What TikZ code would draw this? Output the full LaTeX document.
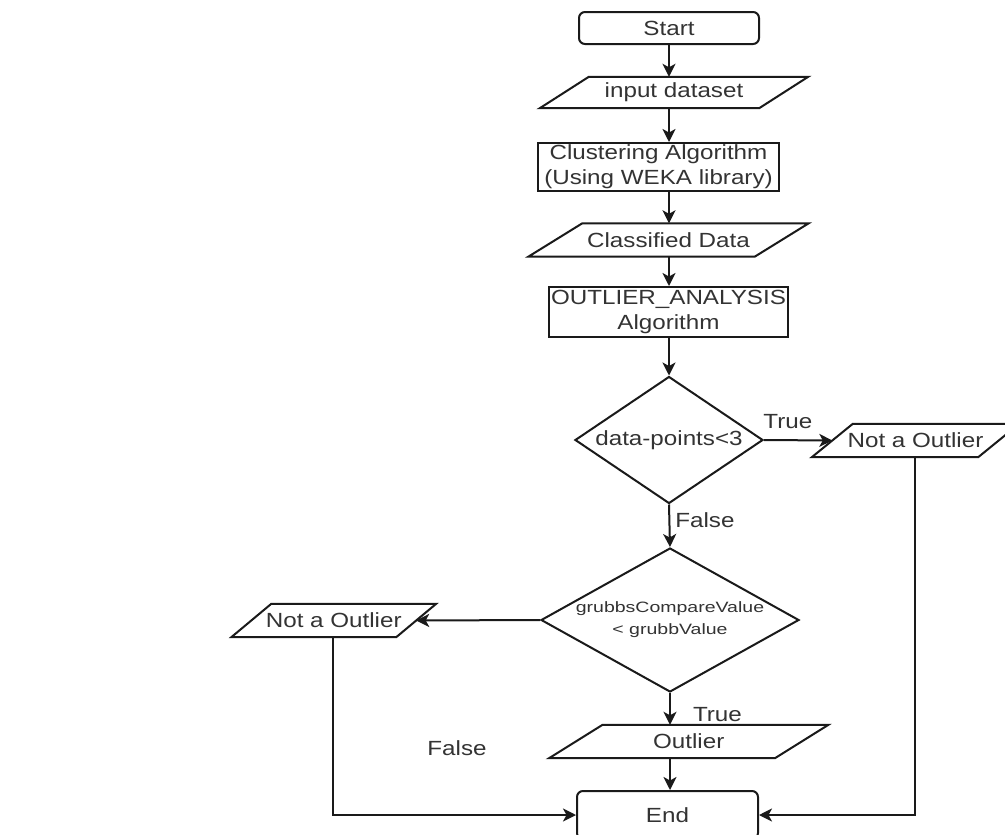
\documentclass[tikz,border=0pt]{standalone}
\usepackage{fontspec}
\setmainfont{Liberation Sans}[FakeStretch=1.18]
\newfontfamily\smallfont{Liberation Sans}[FakeStretch=1.3]
\usetikzlibrary{shapes.geometric,arrows.meta}
\definecolor{txt}{HTML}{333333}
\definecolor{ln}{HTML}{1A1A1A}
\newcommand\drawpara[2]{\draw[shapeline] ([xshift=#2pt]#1.north west) -- ([xshift=#2pt]#1.north east) -- ([xshift=-#2pt]#1.south east) -- ([xshift=-#2pt]#1.south west) -- cycle;}
\begin{document}
\begin{tikzpicture}[x=1pt,y=-1pt,
  every node/.style={text=txt, font=\fontsize{20.5}{25}\selectfont, inner sep=0pt},
  shapeline/.style={draw=ln, line width=2pt},
  term/.style={shapeline, rounded corners=6pt},
  proc/.style={shapeline, align=center},
  io/.style={align=center},
  dec/.style={diamond, shapeline},
  arr/.style={draw=ln, line width=2pt, -{Stealth[length=13pt,width=13pt,inset=3.5pt]}},
  smalltext/.style={font=\smallfont\fontsize{15}{22}\selectfont, align=center, text=txt}
]
\fill[white] (0,0) rectangle (1005,835);
\useasboundingbox (0,0) rectangle (1005,835);

\node[term, minimum width=180pt, minimum height=32pt] (start) at (669,28) {Start};
\node[io, minimum width=219pt, minimum height=31pt] (input) at (674,92.5) {input dataset};
\node[proc, minimum width=241pt, minimum height=48pt] (clust) at (658.5,167) {Clustering Algorithm\\(Using WEKA library)};
\node[io, minimum width=226pt, minimum height=33pt] (classd) at (668.5,240) {Classified Data};
\node[proc, minimum width=239pt, minimum height=50pt] (oa) at (668.5,312) {OUTLIER\_ANALYSIS\\Algorithm};
\node[dec, minimum width=188pt, minimum height=127pt, label={center:data-points<3}] (d1) at (669,440) {};
\node[io, minimum width=166pt, minimum height=33pt] (notR) at (915.5,440.5) {Not a Outlier};
\node[dec, minimum width=258pt, minimum height=144pt, label={[smalltext]center:grubbsCompareValue\\< grubbValue}] (d2) at (670,620) {};
\node[io, minimum width=164.5pt, minimum height=33pt] (notL) at (333.75,620.5) {Not a Outlier};
\node[io, minimum width=225.5pt, minimum height=33pt] (outl) at (688.75,741.5) {Outlier};
\node[term, minimum width=181pt, minimum height=48pt] (end) at (667.5,815) {End};
\node (falseL) at (457,748) {False};

\drawpara{input}{24.5}
\drawpara{classd}{27}
\drawpara{notR}{20.5}
\drawpara{notL}{20}
\drawpara{outl}{26.75}

\draw[arr] (start.south) -- (start.south |- input.north);
\draw[arr] (start.south |- input.south) -- (start.south |- clust.north);
\draw[arr] (start.south |- clust.south) -- (start.south |- classd.north);
\draw[arr] (start.south |- classd.south) -- (start.south |- oa.north);
\draw[arr] (start.south |- oa.south) -- (d1.north);
\draw[arr] (d1.east) -- node[pos=0.35, above=10pt] {True} (notR.west);
\draw[arr] (d1.south) -- node[pos=0.36, right=5pt] {False} (d2.north);
\draw[arr] (d2.west) -- (notL.east);
\draw[arr] (d2.south) -- node[pos=0.67, right=22pt] {True} (d2.south |- outl.north);
\draw[arr] (d2.south |- outl.south) -- (d2.south |- end.north);
\draw[arr] ([xshift=-0.5pt]notR.south) |- (end.east);
\draw[arr] ([xshift=-0.75pt]notL.south) |- (end.west);
\end{tikzpicture}
\end{document}
